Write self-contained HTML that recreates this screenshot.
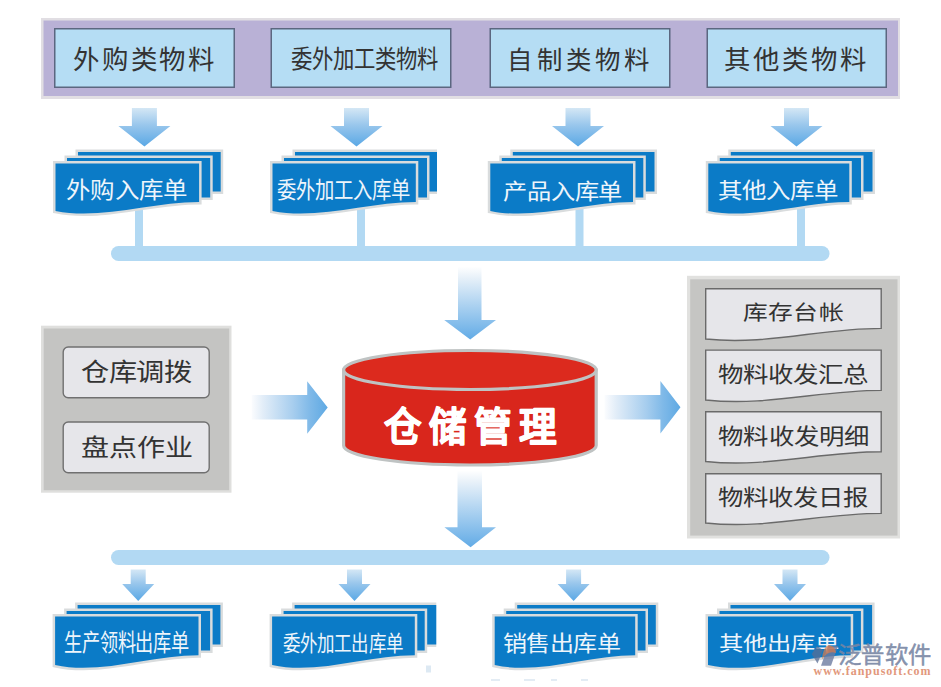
<!DOCTYPE html>
<html lang="zh-CN"><head><meta charset="utf-8"><title>仓储管理</title>
<style>
html,body{margin:0;padding:0;background:#ffffff;width:941px;height:687px;overflow:hidden}
svg{display:block}
text{font-family:"Liberation Sans", sans-serif}
</style></head><body>
<svg width="941" height="687" viewBox="0 0 941 687">
<defs>
<linearGradient id="ga" x1="0" y1="0" x2="0" y2="1"><stop offset="0" stop-color="#d4e7f5"/><stop offset="0.45" stop-color="#98c6ec"/><stop offset="1" stop-color="#5aa8e5"/></linearGradient>
<linearGradient id="gc" x1="0" y1="0" x2="0" y2="1"><stop offset="0" stop-color="#ffffff"/><stop offset="0.15" stop-color="#e8f1f9"/><stop offset="1" stop-color="#62abe6"/></linearGradient>
<linearGradient id="gh" x1="0" y1="0" x2="1" y2="0"><stop offset="0" stop-color="#fbfcfe"/><stop offset="0.15" stop-color="#e2edf8"/><stop offset="0.55" stop-color="#a6cdee"/><stop offset="0.77" stop-color="#7fb9e8"/><stop offset="1" stop-color="#5ea9e3"/></linearGradient>
</defs>
<rect x="41" y="18" width="859" height="81" fill="#e1dee3"/>
<rect x="43.5" y="20.5" width="854.5" height="75.5" fill="#b9b1d6"/>
<rect x="54.75" y="28.75" width="179.5" height="58.5" fill="#b5ddf4" stroke="#5b6780" stroke-width="1.5"/>
<rect x="271.25" y="28.75" width="179.5" height="58.5" fill="#b5ddf4" stroke="#5b6780" stroke-width="1.5"/>
<rect x="490.25" y="28.75" width="179.5" height="58.5" fill="#b5ddf4" stroke="#5b6780" stroke-width="1.5"/>
<rect x="707.25" y="28.75" width="179.0" height="58.5" fill="#b5ddf4" stroke="#5b6780" stroke-width="1.5"/>
<path d="M131.9,108 H156.9 V126 H170.4 L144.4,146.5 L118.4,126 H131.9 Z" fill="url(#ga)"/>
<path d="M344.0,108 H369.0 V126 H382.5 L356.5,146.5 L330.5,126 H344.0 Z" fill="url(#ga)"/>
<path d="M565.5,108 H590.5 V126 H604.0 L578,146.5 L552.0,126 H565.5 Z" fill="url(#ga)"/>
<path d="M784.0,108 H809.0 V126 H822.5 L796.5,146.5 L770.5,126 H784.0 Z" fill="url(#ga)"/>
<rect x="135" y="205" width="8" height="45" fill="#b2d9f3"/>
<rect x="357" y="205" width="8" height="45" fill="#b2d9f3"/>
<rect x="575.5" y="205" width="8" height="45" fill="#b2d9f3"/>
<rect x="797" y="205" width="8" height="45" fill="#b2d9f3"/>
<path d="M78.0,152.0 H220.7 V191.5 H78.0 Z" fill="#0b7bc7" stroke="#d9dcdd" stroke-width="5" paint-order="stroke"/>
<path d="M67.0,158.0 H210.2 V197.5 H67.0 Z" fill="#0b7bc7" stroke="#d9dcdd" stroke-width="5" paint-order="stroke"/>
<path d="M55.5,163.5 H199.1 V202.0 C150.85039999999998,202.0 100.1596,220.4 55.5,210.9 Z" fill="#0b7bc7" stroke="#d9dcdd" stroke-width="5" paint-order="stroke"/>
<path d="M295.0,152.0 H437.0 V191.5 H295.0 Z" fill="#0b7bc7" stroke="#d9dcdd" stroke-width="5" paint-order="stroke"/>
<path d="M284.0,158.0 H427.0 V197.5 H284.0 Z" fill="#0b7bc7" stroke="#d9dcdd" stroke-width="5" paint-order="stroke"/>
<path d="M272.5,163.5 H415.8 V202.0 C367.6512,202.0 317.0663,220.4 272.5,210.9 Z" fill="#0b7bc7" stroke="#d9dcdd" stroke-width="5" paint-order="stroke"/>
<path d="M512.8,152.0 H654.5 V191.5 H512.8 Z" fill="#0b7bc7" stroke="#d9dcdd" stroke-width="5" paint-order="stroke"/>
<path d="M501.8,158.0 H643.3 V197.5 H501.8 Z" fill="#0b7bc7" stroke="#d9dcdd" stroke-width="5" paint-order="stroke"/>
<path d="M490.3,163.5 H633.0 V202.0 C585.0528,202.0 534.6797,220.4 490.3,210.9 Z" fill="#0b7bc7" stroke="#d9dcdd" stroke-width="5" paint-order="stroke"/>
<path d="M730.8,152.0 H872.5 V191.5 H730.8 Z" fill="#0b7bc7" stroke="#d9dcdd" stroke-width="5" paint-order="stroke"/>
<path d="M719.8,158.0 H861.0 V197.5 H719.8 Z" fill="#0b7bc7" stroke="#d9dcdd" stroke-width="5" paint-order="stroke"/>
<path d="M708.3,163.5 H849.3 V202.0 C801.924,202.0 752.151,220.4 708.3,210.9 Z" fill="#0b7bc7" stroke="#d9dcdd" stroke-width="5" paint-order="stroke"/>
<rect x="437" y="145" width="6" height="55" fill="#ffffff"/>
<rect x="111" y="246" width="718.5" height="15" rx="7.5" fill="#b2d9f3"/>
<path d="M458,266.5 H481.5 V320 H496 L470.2,339.5 L444.2,320 H458 Z" fill="url(#gc)"/>
<rect x="41" y="325.7" width="190.5" height="167" fill="#dfdfdd"/>
<rect x="43.7" y="328.5" width="185.5" height="161.7" fill="#c4c4c2"/>
<rect x="63.2" y="347.0" width="146" height="50.79999999999999" rx="5" fill="#e6e6ea" stroke="#707070" stroke-width="1.4"/>
<rect x="63.2" y="422.0" width="146" height="50.79999999999999" rx="5" fill="#e6e6ea" stroke="#707070" stroke-width="1.4"/>
<path d="M251.7,395 H307.2 V381.2 L327.7,407.5 L307.2,433.8 V419.4 H251.7 Z" fill="url(#gh)"/>
<path d="M604.6,395 H660.4 V381 L680.5,407.25 L660.4,433.5 V419.6 H604.6 Z" fill="url(#gh)"/>
<path d="M343.59999999999997,370 V445.5 A126.3,19.5 0 0 0 596.1999999999999,445.5 V370 Z" fill="#d9261c" stroke="#bfc3c3" stroke-width="3.2"/>
<ellipse cx="469.9" cy="370" rx="126.3" ry="19.5" fill="#dc2a1e" stroke="#bfc3c3" stroke-width="3.2"/>
<rect x="687" y="275.8" width="213" height="262.7" fill="#e1e1df"/>
<rect x="690.2" y="279.3" width="207.3" height="256.3" fill="#c5c5c3"/>
<path d="M705.7,288.7 H881.2 V328.4 C819.7750000000001,328.4 767.125,345.5 705.7,339.0 Z" fill="#e6e6ea" stroke="#6a6a6a" stroke-width="1.4"/>
<path d="M705.7,350.09999999999997 H881.2 V390.4 C819.7750000000001,390.4 767.125,406.5 705.7,400.0 Z" fill="#e6e6ea" stroke="#6a6a6a" stroke-width="1.4"/>
<path d="M705.7,411.7 H881.2 V451.8 C819.7750000000001,451.8 767.125,468 705.7,461.5 Z" fill="#e6e6ea" stroke="#6a6a6a" stroke-width="1.4"/>
<path d="M705.7,473.7 H881.2 V513.4 C819.7750000000001,513.4 767.125,529.5 705.7,523.0 Z" fill="#e6e6ea" stroke="#6a6a6a" stroke-width="1.4"/>
<path d="M457.5,470.5 H482 V527.2 H496 L470.6,547.3 L444.4,527.2 H457.5 Z" fill="url(#gc)"/>
<rect x="111" y="550" width="718.5" height="15" rx="7.5" fill="#b2d9f3"/>
<path d="M130.7,569.5 H145.7 V584 H154.2 L138.2,601 L122.19999999999999,584 H130.7 Z" fill="url(#ga)"/>
<path d="M347.0,569.5 H362.0 V584 H370.5 L354.5,601 L338.5,584 H347.0 Z" fill="url(#ga)"/>
<path d="M566.1,569.5 H581.1 V584 H589.6 L573.6,601 L557.6,584 H566.1 Z" fill="url(#ga)"/>
<path d="M782.5,569.5 H797.5 V584 H806.0 L790,601 L774.0,584 H782.5 Z" fill="url(#ga)"/>
<path d="M77.6,604.9 H220.4 V644.4 H77.6 Z" fill="#0b7bc7" stroke="#d9dcdd" stroke-width="5" paint-order="stroke"/>
<path d="M66.6,610.9 H210.1 V650.4 H66.6 Z" fill="#0b7bc7" stroke="#d9dcdd" stroke-width="5" paint-order="stroke"/>
<path d="M55.1,616.4 H198.5 V655.26 C150.3176,655.26 99.6974,675.1 55.1,665.0 Z" fill="#0b7bc7" stroke="#d9dcdd" stroke-width="5" paint-order="stroke"/>
<path d="M294.6,604.9 H437.2 V644.4 H294.6 Z" fill="#0b7bc7" stroke="#d9dcdd" stroke-width="5" paint-order="stroke"/>
<path d="M283.6,610.9 H424.7 V650.4 H283.6 Z" fill="#0b7bc7" stroke="#d9dcdd" stroke-width="5" paint-order="stroke"/>
<path d="M272.1,616.4 H414.8 V655.26 C366.8528,655.26 316.47970000000004,675.1 272.1,665.0 Z" fill="#0b7bc7" stroke="#d9dcdd" stroke-width="5" paint-order="stroke"/>
<path d="M517.2,604.9 H655.8 V644.4 H517.2 Z" fill="#0b7bc7" stroke="#d9dcdd" stroke-width="5" paint-order="stroke"/>
<path d="M506.2,610.9 H645.5 V650.4 H506.2 Z" fill="#0b7bc7" stroke="#d9dcdd" stroke-width="5" paint-order="stroke"/>
<path d="M494.7,616.4 H635.2 V655.26 C587.9920000000001,655.26 538.3955,675.1 494.7,665.0 Z" fill="#0b7bc7" stroke="#d9dcdd" stroke-width="5" paint-order="stroke"/>
<path d="M730.5,604.9 H872.1 V644.4 H730.5 Z" fill="#0b7bc7" stroke="#d9dcdd" stroke-width="5" paint-order="stroke"/>
<path d="M719.5,610.9 H860.9 V650.4 H719.5 Z" fill="#0b7bc7" stroke="#d9dcdd" stroke-width="5" paint-order="stroke"/>
<path d="M708.0,616.4 H850.7 V655.26 C802.7528,655.26 752.3797,675.1 708.0,665.0 Z" fill="#0b7bc7" stroke="#d9dcdd" stroke-width="5" paint-order="stroke"/>
<rect x="436.3" y="598" width="6" height="50" fill="#ffffff"/>
<rect x="426" y="665.5" width="5" height="7" fill="#dde9f3"/>
<rect x="491" y="679" width="9" height="2" fill="#e3ecf4"/>
<rect x="524" y="679" width="11" height="2" fill="#e3ecf4"/>
<rect x="551" y="679" width="6" height="2" fill="#e3ecf4"/>
<rect x="581" y="679" width="7" height="2" fill="#e3ecf4"/>
<text transform="translate(73.47,69.27) scale(1.000,1)" x="0" y="0" font-size="26.41" font-weight="normal" fill="#333333" textLength="140.66" lengthAdjust="spacing">外购类物料</text>
<text transform="translate(291.32,68.31) scale(0.855,1)" x="0" y="0" font-size="25.03" font-weight="normal" fill="#333333" textLength="171.81" lengthAdjust="spacing">委外加工类物料</text>
<text transform="translate(507.47,68.57) scale(1.000,1)" x="0" y="0" font-size="25.43" font-weight="normal" fill="#333333" textLength="141.26" lengthAdjust="spacing">自制类物料</text>
<text transform="translate(724.47,69.07) scale(1.000,1)" x="0" y="0" font-size="26.41" font-weight="normal" fill="#333333" textLength="141.26" lengthAdjust="spacing">其他类物料</text>
<text transform="translate(66.02,198.39) scale(1.098,1)" x="0" y="0" font-size="22.30" font-weight="normal" fill="#eef5fb" textLength="110.55" lengthAdjust="spacing">外购入库单</text>
<text transform="translate(276.97,197.85) scale(0.853,1)" x="0" y="0" font-size="22.72" font-weight="normal" fill="#eef5fb" textLength="156.07" lengthAdjust="spacing">委外加工入库单</text>
<text transform="translate(502.68,198.69) scale(1.117,1)" x="0" y="0" font-size="21.71" font-weight="normal" fill="#eef5fb" textLength="107.47" lengthAdjust="spacing">产品入库单</text>
<text transform="translate(718.22,197.89) scale(1.145,1)" x="0" y="0" font-size="21.37" font-weight="normal" fill="#eef5fb" textLength="105.07" lengthAdjust="spacing">其他入库单</text>
<text transform="translate(81.33,381.47) scale(1.138,1)" x="0" y="0" font-size="24.82" font-weight="normal" fill="#333333" textLength="97.83" lengthAdjust="spacing">仓库调拨</text>
<text transform="translate(81.33,455.97) scale(1.175,1)" x="0" y="0" font-size="23.86" font-weight="normal" fill="#333333" textLength="95.10" lengthAdjust="spacing">盘点作业</text>
<text transform="translate(384.20,440.70) scale(0.950,1)" x="0" y="0" font-size="39.58" font-weight="bold" fill="#ffffff" stroke="#ffffff" stroke-width="1.1" stroke-linejoin="round" textLength="181.68" lengthAdjust="spacing">仓储管理</text>
<text transform="translate(742.86,320.06) scale(1.200,1)" x="0" y="0" font-size="20.63" font-weight="normal" fill="#333333" textLength="83.90" lengthAdjust="spacing">库存台帐</text>
<text transform="translate(718.41,382.47) scale(1.171,1)" x="0" y="0" font-size="21.78" font-weight="normal" fill="#333333" textLength="128.76" lengthAdjust="spacing">物料收发汇总</text>
<text transform="translate(718.39,444.13) scale(1.150,1)" x="0" y="0" font-size="22.10" font-weight="normal" fill="#333333" textLength="131.28" lengthAdjust="spacing">物料收发明细</text>
<text transform="translate(718.39,505.13) scale(1.150,1)" x="0" y="0" font-size="22.10" font-weight="normal" fill="#333333" textLength="130.41" lengthAdjust="spacing">物料收发日报</text>
<text transform="translate(63.80,651.04) scale(0.770,1)" x="0" y="0" font-size="23.59" font-weight="normal" fill="#eef5fb" textLength="163.16" lengthAdjust="spacing">生产领料出库单</text>
<text transform="translate(283.05,650.88) scale(0.824,1)" x="0" y="0" font-size="21.25" font-weight="normal" fill="#eef5fb" textLength="145.24" lengthAdjust="spacing">委外加工出库单</text>
<text transform="translate(503.02,650.79) scale(1.125,1)" x="0" y="0" font-size="21.37" font-weight="normal" fill="#eef5fb" textLength="105.01" lengthAdjust="spacing">销售出库单</text>
<text transform="translate(718.67,650.77) scale(1.200,1)" x="0" y="0" font-size="20.22" font-weight="normal" fill="#eef5fb" textLength="100.22" lengthAdjust="spacing">其他出库单</text>
<text transform="translate(837.99,663.28) scale(1.023,1)" x="0" y="0" font-size="22.81" font-weight="normal" fill="#7886a4" stroke="#7886a4" stroke-width="0.5" fill-opacity="0.88" stroke-opacity="0.88" textLength="91.08" lengthAdjust="spacing">泛普软件</text>
<text x="813.5" y="675" style="font-family:&quot;Liberation Serif&quot;, serif" font-size="12" font-weight="bold" fill="#e2987c" textLength="117" lengthAdjust="spacing">www.fanpusoft.com</text>
<path d="M811.7,654 L817,646 L823,650 L817.5,663.5 Z" fill="#5a6d94" fill-opacity="0.75"/>
<path d="M821,665.7 L831,665.7 L838,646 L828,646 Z" fill="#6d7ca0" fill-opacity="0.8"/>
<path d="M822,659.5 Q823,646 829,645 Q835,646 836,653 Q828,650 822,659.5 Z" fill="#d87a4a" fill-opacity="0.7"/>
</svg>
</body></html>
